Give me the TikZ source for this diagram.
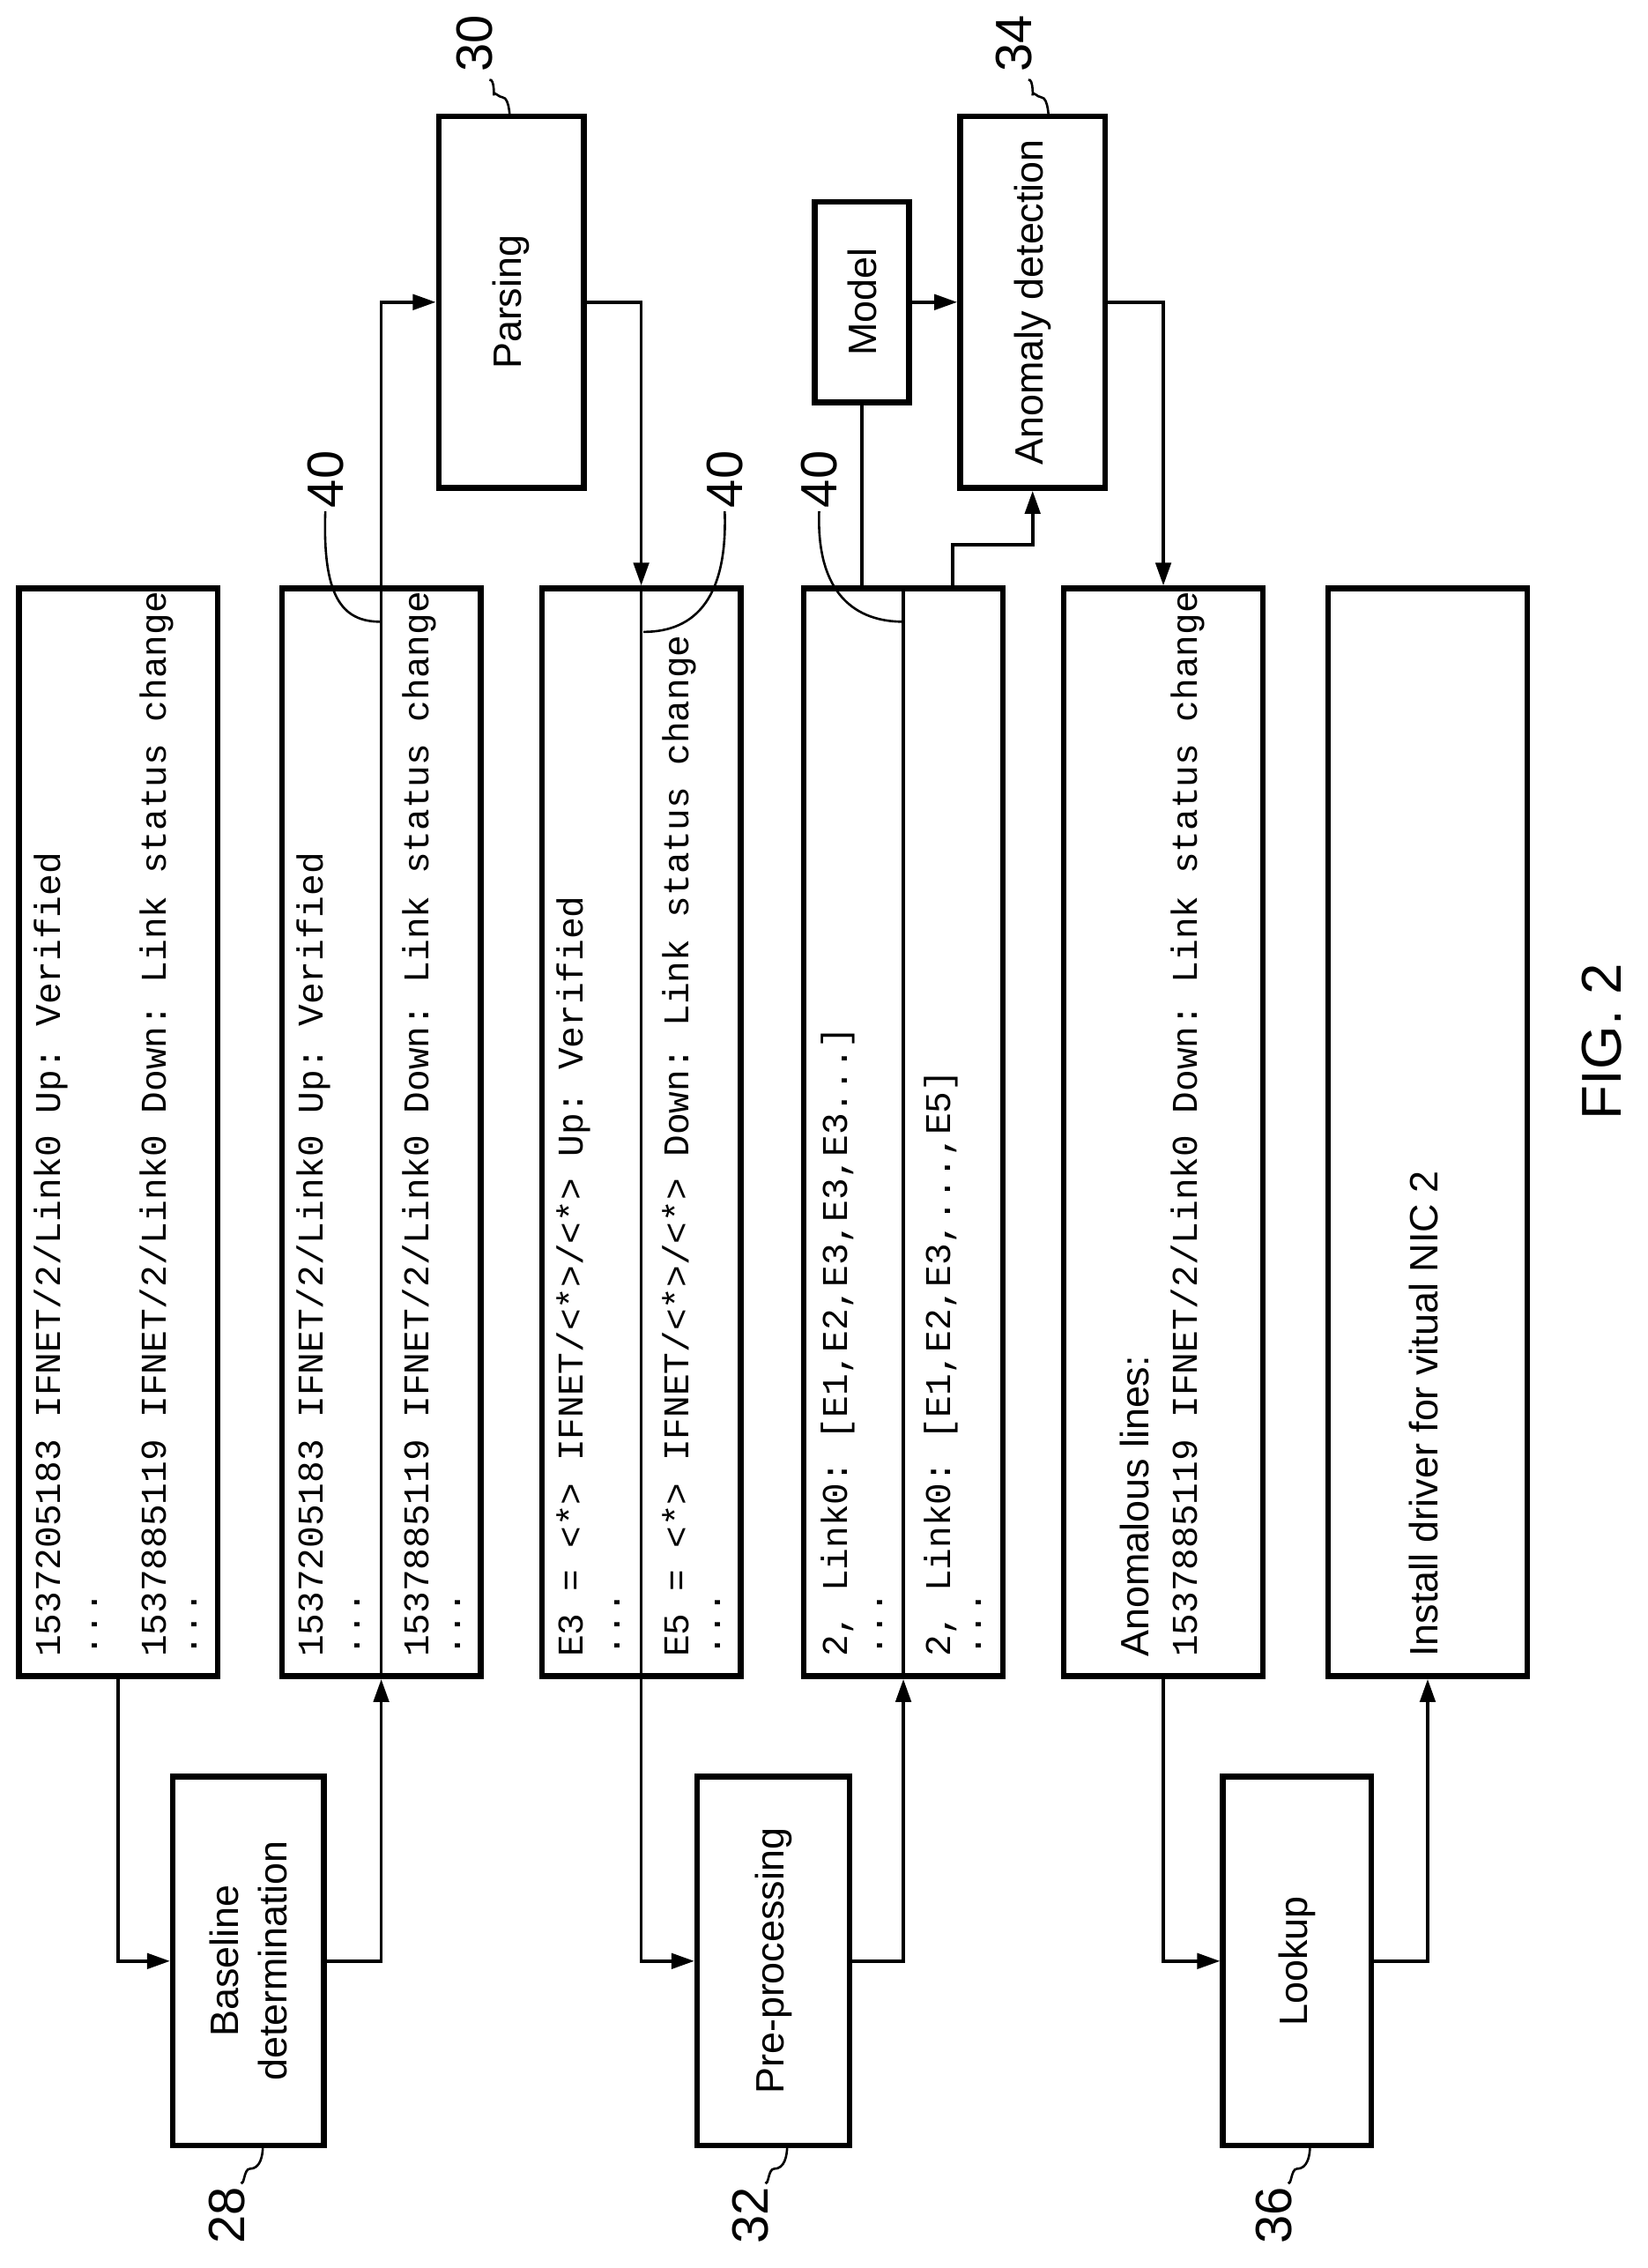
\documentclass[tikz,border=0pt]{standalone}
\usepackage{fontspec}
\setmainfont{Liberation Sans}
\setmonofont{Liberation Mono}
\usetikzlibrary{arrows.meta}
\begin{document}
\begin{tikzpicture}[x=0.02cm,y=-0.02cm,
  box/.style={draw,line width=2.2pt,inner sep=0pt},
  logbox/.style={box,minimum width=2.74cm,minimum height=14.98cm},
  mono/.style={font=\fontsize{14.2}{16}\ttfamily,rotate=90,anchor=west,inner sep=0pt},
  sans/.style={font=\fontsize{15.5}{19}\selectfont,rotate=90,align=center,inner sep=0pt},
  num/.style={font=\fontsize{20}{22}\selectfont,rotate=90,inner sep=0pt},
  line/.style={line width=1.3pt},
  arr/.style={line,-{Triangle[length=9pt,width=6pt]}},
  lead/.style={line width=0.9pt}]
\useasboundingbox (0,0) rectangle (1134.7,1561.3);
% log boxes
\node[logbox] (log1) at (81.5,779.5) {};
\node[logbox] (log2) at (262.5,779.5) {};
\node[logbox] (log3) at (441.5,779.5) {};
\node[logbox] (log4) at (622,779.5) {};
\node[logbox] (log5) at (801,779.5) {};
\node[logbox] (log6) at (983,779.5) {};
% process boxes
\node[box,minimum width=2.08cm,minimum height=5.08cm] (base) at (171,1350) {};
\node[box,minimum width=2.1cm,minimum height=5.08cm] (pre) at (532.5,1350) {};
\node[box,minimum width=2.04cm,minimum height=5.08cm] (look) at (893,1350) {};
\node[box,minimum width=2.0cm,minimum height=5.12cm] (pars) at (352,208) {};
\node[box,minimum width=1.3cm,minimum height=2.76cm] (model) at (593.5,208) {};
\node[box,minimum width=2.0cm,minimum height=5.12cm] (anom) at (711,208) {};
\node[sans] (tbase) at (base) {Baseline\\determination};
\node[sans] (tpre) at (pre) {Pre-processing};
\node[sans] (tlook) at (look) {Lookup};
\node[sans] (tpars) at (pars) {Parsing};
\node[sans] (tmodel) at (model) {Model};
\node[sans] (tanom) at (anom) {Anomaly detection};
% log texts
\node[mono] (a1) at (35,1141) {1537205183 IFNET/2/Link0 Up: Verified};
\node[mono] (a2) at (65,1141) {...};
\node[mono] (a3) at (108,1141) {1537885119 IFNET/2/Link0 Down: Link status change};
\node[mono] (a4) at (134,1141) {...};
\node[mono] (b1) at (216,1141) {1537205183 IFNET/2/Link0 Up: Verified};
\node[mono] (b2) at (246,1141) {...};
\node[mono] (b3) at (289,1141) {1537885119 IFNET/2/Link0 Down: Link status change};
\node[mono] (b4) at (315,1141) {...};
\node[mono] (c1) at (395,1141) {E3 = <*> IFNET/<*>/<*> Up: Verified};
\node[mono] (c2) at (425,1141) {...};
\node[mono] (c3) at (468,1141) {E5 = <*> IFNET/<*>/<*> Down: Link status change};
\node[mono] (c4) at (494,1141) {...};
\node[mono] (d1) at (577,1141) {2, Link0: [E1,E2,E3,E3,E3...]};
\node[mono] (d2) at (606,1141) {...};
\node[mono] (d3) at (648,1141) {2, Link0: [E1,E2,E3,...,E5]};
\node[mono] (d4) at (674,1141) {...};
\node[sans,anchor=west] (e1) at (781,1141) {Anomalous lines:};
\node[mono] (e2) at (818,1141) {1537885119 IFNET/2/Link0 Down: Link status change};
\node[sans,anchor=west] (f1) at (980,1141) {Install driver for vitual NIC 2};
% dividers
\draw[line] (log2.south) -- (log2.north);
\draw[line] (log3.north) -- (log3.south);
\draw[line] (log4.south) -- (log4.north);
% connectors
\draw[arr] (log1.south) |- (base.west);
\draw[arr] (base.east) -| (log2.south);
\draw[arr] (log2.north) |- (pars.west);
\draw[arr] (pars.east) -| (log3.north);
\draw[arr] (log3.south) |- (pre.west);
\draw[arr] (pre.east) -| (log4.south);
\draw[line] (model.south) -- (model.south |- log4.north);
\draw[arr] (model.east) -- (anom.west);
\coordinate (t4) at (656,405);
\coordinate (k4) at (656,375);
\draw[arr] (t4) -- (k4) -| (anom.south);
\draw[arr] (anom.east) -| (log5.north);
\draw[arr] (log5.south) |- (look.west);
\draw[arr] (look.east) -| (log6.south);
% reference numerals
\node[num] (n28) at (156,1525) {28};
\node[num] (n32) at (517,1525) {32};
\node[num] (n36) at (877,1525) {36};
\node[num] (n30) at (327,30) {30};
\node[num] (n34) at (698,30) {34};
\node[num] (n40a) at (224,330) {40};
\node[num] (n40b) at (499,330) {40};
\node[num] (n40c) at (564,330) {40};
\draw[lead] (166,1502) to[out=-60,in=180] (172,1493) to[out=0,in=-90] (181,1477);
\draw[lead] (527,1502) to[out=-60,in=180] (533,1493) to[out=0,in=-90] (542,1477);
\draw[lead] (887,1502) to[out=-60,in=180] (893,1493) to[out=0,in=-90] (902,1477);
\draw[lead] (337,55) to[out=20,in=-90] (340,65) to[out=90,in=180] (346,67) to[out=0,in=-90] (351,80);
\draw[lead] (708,55) to[out=20,in=-90] (711,65) to[out=90,in=180] (717,67) to[out=0,in=-90] (722,80);
\draw[lead] (224,352) .. controls (222,410) and (235,428) .. (262,428);
\draw[lead] (499,352) .. controls (501,410) and (480,435) .. (443,435);
\draw[lead] (564,352) .. controls (562,410) and (590,428) .. (622,428);
\node[font=\fontsize{22}{26}\selectfont,rotate=90] (fig) at (1103,717) {FIG. 2};
\end{tikzpicture}
\end{document}
